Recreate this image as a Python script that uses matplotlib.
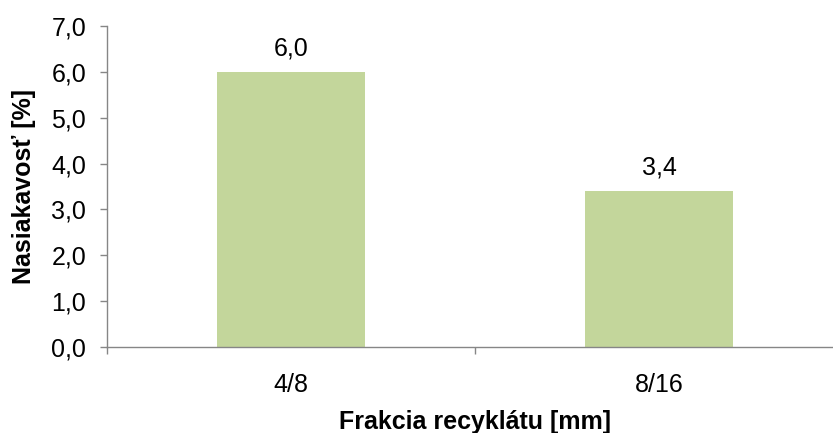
import matplotlib.pyplot as plt

# data
categories = ["4/8", "8/16"]
values = [6.0, 3.4]
yticks = [0, 1, 2, 3, 4, 5, 6, 7]

bar_color = "#c3d69b"
axis_color = "#868686"
fs = 18

plt.rcParams['font.family'] = ['Liberation Sans', 'DejaVu Sans']

fig = plt.figure(figsize=(8.33, 4.33), dpi=100)
ax = fig.add_axes([107 / 833, 1 - 347 / 433, 736 / 833, 321 / 433])

x = list(range(len(categories)))
ax.bar(x, values, width=0.4, color=bar_color, zorder=2)

for xi, v in zip(x, values):
    ax.annotate(f"{v:.1f}".replace(".", ","), (xi, v), xytext=(0, 8),
                textcoords="offset points", ha="center", va="bottom", fontsize=fs)

ax.set_xlim(-0.5, len(categories) - 0.5)
ax.set_ylim(0, 7)
ax.set_yticks(yticks)
ax.set_yticklabels([f"{t:.1f}".replace(".", ",") for t in yticks], fontsize=fs)

# ticks on category boundaries, labels in the middle
ax.set_xticks([i - 0.5 for i in range(len(categories) + 1)])
ax.set_xticklabels([])
ax.set_xticks(x, minor=True)
ax.set_xticklabels(categories, minor=True, fontsize=fs)
ax.tick_params(axis='x', which='minor', length=0, pad=19)
ax.tick_params(axis='x', which='major', length=5, color=axis_color, width=1)
ax.tick_params(axis='y', length=5, color=axis_color, width=1, pad=10)

for s in ["top", "right"]:
    ax.spines[s].set_visible(False)
for s in ["left", "bottom"]:
    ax.spines[s].set_color(axis_color)
    ax.spines[s].set_linewidth(1)

ax.set_ylabel("Nasiakavosť [%]", fontsize=fs, fontweight="bold", labelpad=11)
ax.set_xlabel("Frakcia recyklátu [mm]", fontsize=fs, fontweight="bold", labelpad=9)

fig.savefig("out.png", dpi=100)
